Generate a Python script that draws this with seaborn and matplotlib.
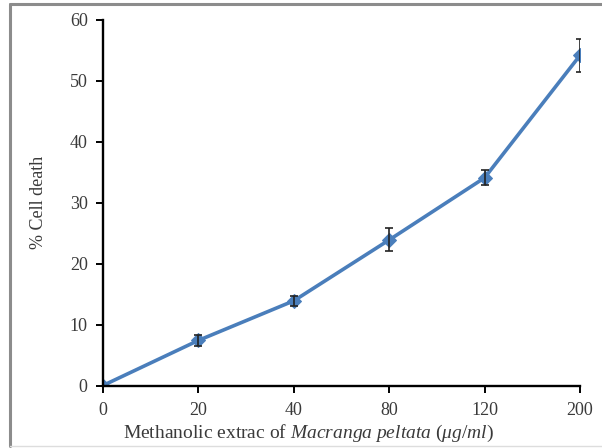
import numpy as np
import pandas as pd
import matplotlib
matplotlib.use("Agg")
import matplotlib.pyplot as plt
from matplotlib.lines import Line2D
import seaborn as sns

# Concentrations (µg/ml) and measured % cell death with standard deviations
concentrations = ["0", "20", "40", "80", "120", "200"]
cell_death = [0.0, 7.4, 13.9, 23.9, 34.1, 54.2]
sd = [0.0, 0.95, 0.85, 1.9, 1.2, 2.7]

sns.set_theme(style="white")
plt.rcParams["font.family"] = ["Liberation Serif", "DejaVu Serif"]
plt.rcParams["mathtext.fontset"] = "custom"
plt.rcParams["mathtext.rm"] = "Liberation Serif"
plt.rcParams["mathtext.it"] = "Liberation Serif:italic"

df = pd.DataFrame({
    "pos": np.arange(len(concentrations)),
    "conc": concentrations,
    "death": cell_death,
    "sd": sd,
})

fig = plt.figure(figsize=(6.02, 4.48), dpi=100)
ax = fig.add_axes([0.171, 0.1395, 0.7925, 0.8159])

blue = "#4A7EBB"
text_col = "#3a3a3a"
sns.lineplot(data=df, x="pos", y="death", ax=ax, color=blue, linewidth=2.6,
             marker="D", markersize=7.5, markeredgecolor=blue, zorder=3)
ax.errorbar(df["pos"], df["death"], yerr=df["sd"], fmt="none",
            ecolor="#222222", elinewidth=1.2, capsize=2.8, capthick=1.2, zorder=4)

ax.set_xlim(0, len(concentrations) - 1)
ax.set_ylim(0, 60)
ax.set_xticks(df["pos"])
ax.set_xticklabels(concentrations)
ax.set_yticks(np.arange(0, 61, 10))

for side in ["top", "right"]:
    ax.spines[side].set_visible(False)
for side in ["left", "bottom"]:
    ax.spines[side].set_color("black")
    ax.spines[side].set_linewidth(1.7)
    ax.spines[side].set_zorder(5)
ax.tick_params(axis="both", direction="out", length=5, width=1.4, color="black",
               labelsize=13, labelcolor=text_col, left=True, bottom=True)
ax.tick_params(axis="y", pad=6)
ax.tick_params(axis="x", pad=7)

ax.set_ylabel("% Cell death", fontsize=13, color=text_col, labelpad=16)
ax.set_xlabel(r"Methanolic extrac of $\mathit{Macranga\ peltata\ (\mu g/ml)}$",
              fontsize=14, color=text_col)
ax.xaxis.set_label_coords(0.43, -0.102)

# Outer frame
frame_kw = dict(transform=fig.transFigure, color="#8c8c8c", linewidth=2.2)
fig.add_artist(Line2D([0.0166, 0.0166], [0.004, 0.991], **frame_kw))
fig.add_artist(Line2D([0.0166, 1.0], [0.991, 0.991], **frame_kw))
fig.add_artist(Line2D([0.0166, 1.0], [0.004, 0.004], transform=fig.transFigure,
                      color="#dddddd", linewidth=1.0))

fig.savefig("out.png", dpi=100)
